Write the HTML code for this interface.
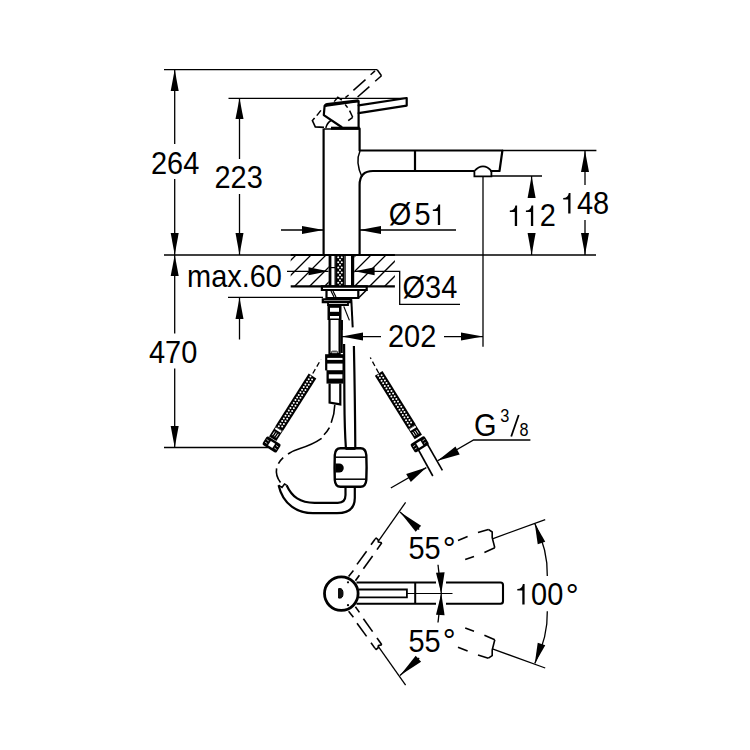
<!DOCTYPE html>
<html><head><meta charset="utf-8"><style>
html,body{margin:0;padding:0;background:#fff;width:750px;height:750px;overflow:hidden}
svg{display:block}
text{font-family:"Liberation Sans",sans-serif;fill:#000;stroke:none}
</style></head><body>
<svg width="750" height="750" viewBox="0 0 750 750">
<rect width="750" height="750" fill="#fff"/>
<g stroke="#000" fill="none">
<line x1="164" y1="69.6" x2="377.2" y2="69.6" stroke-width="1.3" />
<line x1="228.5" y1="98.3" x2="407" y2="98.3" stroke-width="1.3" />
<line x1="174.7" y1="70" x2="174.7" y2="144" stroke-width="1.3" />
<polygon points="174.7,69.6 170.70,91.00 178.70,91.00" fill="#000" stroke="none"/>
<line x1="174.7" y1="179" x2="174.7" y2="255" stroke-width="1.3" />
<polygon points="174.7,255 178.70,233.00 170.70,233.00" fill="#000" stroke="none"/>
<text transform="translate(151,174) scale(0.95,1)" font-size="30.5" text-anchor="start">264</text>
<line x1="239.5" y1="98.3" x2="239.5" y2="159" stroke-width="1.3" />
<polygon points="239.5,98.3 235.50,119.00 243.50,119.00" fill="#000" stroke="none"/>
<line x1="239.5" y1="194" x2="239.5" y2="255" stroke-width="1.3" />
<polygon points="239.5,255 243.50,233.00 235.50,233.00" fill="#000" stroke="none"/>
<text transform="translate(214.5,188) scale(0.95,1)" font-size="30.5" text-anchor="start">223</text>
<line x1="164" y1="255" x2="596" y2="255" stroke-width="1.3" />
<line x1="174.7" y1="255" x2="174.7" y2="333.5" stroke-width="1.3" />
<polygon points="174.7,255 170.70,276.00 178.70,276.00" fill="#000" stroke="none"/>
<line x1="228" y1="297.4" x2="323" y2="297.4" stroke-width="1.3" />
<line x1="239.5" y1="297.4" x2="239.5" y2="339.5" stroke-width="1.3" />
<polygon points="239.5,297.4 235.50,319.00 243.50,319.00" fill="#000" stroke="none"/>
<text transform="translate(187,286.5) scale(0.95,1)" font-size="30.5" text-anchor="start">max.60</text>
<line x1="174.7" y1="368.5" x2="174.7" y2="447.5" stroke-width="1.3" />
<polygon points="174.7,447.5 178.70,426.00 170.70,426.00" fill="#000" stroke="none"/>
<line x1="164" y1="447.5" x2="268" y2="447.5" stroke-width="1.3" />
<text transform="translate(149,363) scale(0.95,1)" font-size="30.5" text-anchor="start">470</text>
<line x1="281" y1="230" x2="323.6" y2="230" stroke-width="1.3" />
<polygon points="323.6,230 302.00,226.00 302.00,234.00" fill="#000" stroke="none"/>
<line x1="359.6" y1="230" x2="456" y2="230" stroke-width="1.3" />
<polygon points="359.6,230 381.00,234.00 381.00,226.00" fill="#000" stroke="none"/>
<text transform="translate(388.7,225) scale(0.95,1)" font-size="30.5" text-anchor="start">Ø</text>
<text transform="translate(414.44255,225) scale(0.95,1)" font-size="30.5" text-anchor="start">5</text>
<path d="M437.85 225 L440.15 225 L440.15 204.40 L438.45 204.40 C437.85 207.60 436.15 209.50 432.85 209.60 L432.85 211.10 L437.85 211.10 Z" fill="#000" stroke="none"/>
<line x1="287" y1="271.3" x2="328.5" y2="271.3" stroke-width="1.3" />
<polygon points="328.5,271.3 308.50,267.30 308.50,275.30" fill="#000" stroke="none"/>
<polyline points="354.5,271.3 399.7,271.3 399.7,304.4 460,304.4" fill="none" stroke-width="1.3" />
<polygon points="354.5,271.3 374.60,275.30 374.60,267.30" fill="#000" stroke="none"/>
<text transform="translate(402.5,298) scale(0.95,1)" font-size="30.5" text-anchor="start">Ø34</text>
<line x1="341.7" y1="336.6" x2="381" y2="336.6" stroke-width="1.3" />
<polygon points="341.7,336.6 363.00,340.60 363.00,332.60" fill="#000" stroke="none"/>
<line x1="444" y1="336.6" x2="483" y2="336.6" stroke-width="1.3" />
<polygon points="483,336.6 461.00,332.60 461.00,340.60" fill="#000" stroke="none"/>
<line x1="483" y1="176" x2="483" y2="346.8" stroke-width="1.3" />
<text transform="translate(388,347) scale(0.95,1)" font-size="30.5" text-anchor="start">202</text>
<line x1="502" y1="150.5" x2="596.4" y2="150.5" stroke-width="1.3" />
<line x1="491" y1="176" x2="542" y2="176" stroke-width="1.3" />
<line x1="585" y1="150.5" x2="585" y2="185" stroke-width="1.3" />
<polygon points="585,150.5 581.00,172.00 589.00,172.00" fill="#000" stroke="none"/>
<line x1="585" y1="220" x2="585" y2="255" stroke-width="1.3" />
<polygon points="585,255 589.00,233.00 581.00,233.00" fill="#000" stroke="none"/>
<path d="M568.20 213.5 L570.50 213.5 L570.50 192.90 L568.80 192.90 C568.20 196.10 566.50 198.00 563.20 198.10 L563.20 199.60 L568.20 199.60 Z" fill="#000" stroke="none"/>
<text transform="translate(577.0101,213.5) scale(0.95,1)" font-size="30.5" text-anchor="start">48</text>
<line x1="531.6" y1="176" x2="531.6" y2="198" stroke-width="1.3" />
<polygon points="531.6,176 527.60,198.00 535.60,198.00" fill="#000" stroke="none"/>
<line x1="531.6" y1="233" x2="531.6" y2="255" stroke-width="1.3" />
<polygon points="531.6,255 535.60,233.00 527.60,233.00" fill="#000" stroke="none"/>
<path d="M514.80 226 L517.10 226 L517.10 205.40 L515.40 205.40 C514.80 208.60 513.10 210.50 509.80 210.60 L509.80 212.10 L514.80 212.10 Z" fill="#000" stroke="none"/>
<path d="M530.91 226 L533.21 226 L533.21 205.40 L531.51 205.40 C530.91 208.60 529.21 210.50 525.91 210.60 L525.91 212.10 L530.91 212.10 Z" fill="#000" stroke="none"/>
<text transform="translate(539.7202,226) scale(0.95,1)" font-size="30.5" text-anchor="start">2</text>
<line x1="323.6" y1="128.5" x2="323.6" y2="254" stroke-width="2.2" />
<polyline points="359.6,128.5 359.6,150.5 502.4,150.5 499.5,171 491,171" fill="none" stroke-width="2.2" stroke-linejoin="round" stroke-linecap="round"/>
<line x1="474.4" y1="171" x2="373" y2="171" stroke-width="2.2" />
<path d="M373 171 Q359.6 171 359.6 185 L359.6 254" fill="none" stroke-width="2.2" />
<path d="M360 151 Q355 162 362 177" fill="none" stroke-width="1.5" />
<line x1="415" y1="151" x2="415" y2="171" stroke-width="2.2" />
<path d="M474.4 171 L474.4 176.3 L491.4 176.3 L491.4 171 M474.4 171 C477.5 167.5 479.5 166.3 483 166.3 C486.5 166.3 488.5 167.5 491.4 171" fill="none" stroke-width="1.8" />
<line x1="331" y1="128.2" x2="359.6" y2="128.2" stroke-width="3.0" />
<polyline points="341.5,127 323.8,115.2 324.6,105.8 358.6,101.2 358.6,128" fill="none" stroke-width="2.2" stroke-linejoin="round" stroke-linecap="round"/>
<path d="M325.5 106.8 Q325 104.6 327 104.3 L358.6 100.6" fill="none" stroke-width="2.8" />
<path d="M325.8 128 Q327 123 331 120.5" fill="none" stroke-width="1.5" />
<polyline points="358.6,105.4 406.7,98 406.7,105.6 358.6,113.2" fill="none" stroke-width="2.2" stroke-linejoin="round" stroke-linecap="round"/>
<line x1="375" y1="70.9" x2="370.6" y2="74.8" stroke-width="1.5" />
<line x1="365.5" y1="79.6" x2="353.4" y2="90.4" stroke-width="1.5" />
<line x1="348.6" y1="95" x2="345.4" y2="97.6" stroke-width="1.5" />
<line x1="381.5" y1="75.7" x2="375.2" y2="81.2" stroke-width="1.5" />
<line x1="369.4" y1="86.6" x2="357.6" y2="97" stroke-width="1.5" />
<line x1="320.9" y1="110.4" x2="316.8" y2="115.6" stroke-width="1.5" />
<line x1="345.2" y1="104.5" x2="347.6" y2="107.6" stroke-width="1.5" />
<line x1="349.6" y1="110.6" x2="352.7" y2="117.3" stroke-width="1.5" />
<polyline points="377.2,69.8 381.5,75.7" fill="none" stroke-width="1.5" />
<polyline points="334.2,101.6 337.8,97.2 341.8,100.2" fill="none" stroke-width="1.5" />
<polyline points="314.6,118 312.4,120.6 315.3,126.9 324,127.4" fill="none" stroke-width="1.6" />
<polyline points="352.7,117.3 348.2,120.6" fill="none" stroke-width="1.5" />
<line x1="323.9" y1="129" x2="359" y2="129" stroke-width="1.5" />
<line x1="290.7" y1="255" x2="394.9" y2="255" stroke-width="2.2" />
<line x1="290.7" y1="286.3" x2="394.9" y2="286.3" stroke-width="2.2" />
<clipPath id="hc"><rect x="290.7" y="255" width="38" height="31.3"/><rect x="354.4" y="255" width="40.5" height="31.3"/></clipPath>
<path d="M234.7 286.3 L266 255 M249.7 286.3 L281 255 M264.7 286.3 L296 255 M279.7 286.3 L311 255 M294.7 286.3 L326 255 M309.7 286.3 L341 255 M324.7 286.3 L356 255 M339.7 286.3 L371 255 M354.7 286.3 L386 255 M369.7 286.3 L401 255 M384.7 286.3 L416 255 M399.7 286.3 L431 255 M414.7 286.3 L446 255 M429.7 286.3 L461 255" fill="none" stroke-width="1.3" clip-path="url(#hc)"/>
<line x1="330" y1="255" x2="330" y2="286.3" stroke-width="2.8" />
<line x1="352.6" y1="255" x2="352.6" y2="286.3" stroke-width="3.2" />
<line x1="335.2" y1="255" x2="335.2" y2="286.3" stroke-width="1.4" />
<line x1="345" y1="255" x2="345" y2="286.3" stroke-width="1.4" />
<line x1="331" y1="267.6" x2="335.2" y2="267.6" stroke-width="1.2" />
<rect x="336" y="255" width="8" height="31.3" fill="#000" stroke="none"/>
<g fill="#fff" stroke="none"><circle cx="338.2" cy="257.20" r="1.0"/><circle cx="341.8" cy="257.20" r="1.0"/><circle cx="340.0" cy="259.75" r="1.0"/><circle cx="338.2" cy="262.30" r="1.0"/><circle cx="341.8" cy="262.30" r="1.0"/><circle cx="340.0" cy="264.85" r="1.0"/><circle cx="338.2" cy="267.40" r="1.0"/><circle cx="341.8" cy="267.40" r="1.0"/><circle cx="340.0" cy="269.95" r="1.0"/><circle cx="338.2" cy="272.50" r="1.0"/><circle cx="341.8" cy="272.50" r="1.0"/><circle cx="340.0" cy="275.05" r="1.0"/><circle cx="338.2" cy="277.60" r="1.0"/><circle cx="341.8" cy="277.60" r="1.0"/><circle cx="340.0" cy="280.15" r="1.0"/><circle cx="338.2" cy="282.70" r="1.0"/><circle cx="341.8" cy="282.70" r="1.0"/><circle cx="340.0" cy="285.25" r="1.0"/></g>
<polygon points="321.9,286.3 366.7,286.3 366.7,290 321.9,290" fill="none" stroke-width="2.2" />
<polygon points="326.5,290 358.3,290 358.3,298 326.5,298" fill="none" stroke-width="2.2" />
<path d="M366 290.5 L359 297.5" fill="none" stroke-width="1.6" />
<path d="M331 291 L334 297 M333 291 L336 297" fill="none" stroke-width="1.2" />
<polygon points="322.8,299.4 350.8,299.4 350.8,302.2 322.8,302.2" fill="none" stroke-width="2.2" />
<polygon points="328,302.2 348,302.2 348,305 328,305" fill="none" stroke-width="1.8" />
<rect x="327.5" y="305" width="14" height="15" fill="#000" stroke="none"/>
<rect x="330" y="307.8" width="9" height="4" fill="#fff" stroke="none"/>
<rect x="330" y="316" width="9" height="2.5" fill="#fff" stroke="none"/>
<polyline points="329.5,320 329.5,354 339.6,354 339.6,320" fill="none" stroke-width="2.2" />
<rect x="340.4" y="320" width="2.4" height="33" fill="#000" stroke="none"/>
<rect x="340.5" y="320" width="2.4" height="10" fill="#000" stroke="none"/>
<line x1="343.8" y1="306.4" x2="349.4" y2="320.4" stroke-width="1.2" />
<line x1="351.3" y1="299.4" x2="352.7" y2="327.4" stroke-width="2" />
<rect x="325.1" y="354.2" width="19.7" height="16.2" fill="#000" stroke="none"/>
<rect x="326.5" y="370" width="17" height="13.6" fill="#000" stroke="none"/>
<rect x="327.3" y="357.9" width="15.2" height="2" fill="#fff" stroke="none"/>
<rect x="327.3" y="363.6" width="15.2" height="6.6" fill="#fff" stroke="none"/>
<rect x="328.8" y="374.3" width="13.6" height="4.3" fill="#fff" stroke="none"/>
<rect x="331.5" y="351.2" width="6" height="2" rx="1" fill="#fff" stroke="#111" stroke-width="1"/>
<path d="M329.6 383.6 L329.6 402.6 L340.3 404.4 L340.3 383.6" fill="none" stroke-width="2.2" />
<path d="M344.1 344 L344.4 400 Q344.6 430 345.9 448" fill="none" stroke-width="2.2" />
<path d="M353.9 346 Q355 400 355.3 448" fill="none" stroke-width="2.2" />
<path d="M334.8 404.8 C334.6 411 333.5 417 331.2 422.8 M329.4 427.6 C327.8 430.5 326 432.8 324 434.8 M321.6 438.4 C315 443 308 446 300 448.5 C295 450 291 452 288 454 M283.2 457.6 C281.3 459.3 279.7 461.3 278.4 463.6 M276.6 468.4 C275.8 473 277 478 280.5 482.5" fill="none" stroke-width="1.6" />
<path d="M340.5 448.2 L360.5 448.2 Q365.8 448.2 366.3 455 Q366.9 467.5 366.3 480 Q365.8 486.8 360.5 486.8 L340.5 486.8 Q335.2 486.8 334.8 480 Q334.3 467.5 334.8 455 Q335.2 448.2 340.5 448.2 Z" fill="none" stroke-width="2.4" />
<line x1="335.5" y1="457.2" x2="365.8" y2="457.2" stroke-width="1.5" />
<line x1="335.5" y1="479.2" x2="365.8" y2="479.2" stroke-width="1.5" />
<path d="M335.3 463.4 L339.2 463.4 A4.55 4.55 0 0 1 339.2 472.5 L335.3 472.5 Z" fill="#000" stroke-width="0" />
<line x1="345.5" y1="448.5" x2="355.5" y2="448.5" stroke-width="2.8" />
<path d="M345.5 487 L345.5 495 Q345.5 502.8 337.8 502.8 L314.6 502.8 C300 502.8 292 497 286.6 485.2" fill="none" stroke-width="2.2" />
<path d="M354.8 487 L354.8 498 Q354.8 513.2 337 513.2 L313 513.2 C298 513.2 283 505 278.6 485.2" fill="none" stroke-width="2.2" />
<polyline points="278.6,485.2 282,487.5 284.5,484 286.6,485.2" fill="none" stroke-width="1.5" />
<line x1="312.5" y1="376" x2="279.14" y2="428.62" stroke-width="9"/>
<g fill="#fff" stroke="none"><circle cx="310.38" cy="376.55" r="1.0"/><circle cx="312.08" cy="379.46" r="1.0"/><circle cx="308.72" cy="379.17" r="1.0"/><circle cx="310.42" cy="382.08" r="1.0"/><circle cx="307.06" cy="381.78" r="1.0"/><circle cx="308.76" cy="384.70" r="1.0"/><circle cx="305.40" cy="384.40" r="1.0"/><circle cx="307.10" cy="387.32" r="1.0"/><circle cx="303.74" cy="387.02" r="1.0"/><circle cx="305.44" cy="389.94" r="1.0"/><circle cx="302.08" cy="389.64" r="1.0"/><circle cx="303.78" cy="392.55" r="1.0"/><circle cx="300.42" cy="392.26" r="1.0"/><circle cx="302.12" cy="395.17" r="1.0"/><circle cx="298.76" cy="394.88" r="1.0"/><circle cx="300.46" cy="397.79" r="1.0"/><circle cx="297.10" cy="397.49" r="1.0"/><circle cx="298.80" cy="400.41" r="1.0"/><circle cx="295.44" cy="400.11" r="1.0"/><circle cx="297.14" cy="403.03" r="1.0"/><circle cx="293.78" cy="402.73" r="1.0"/><circle cx="295.48" cy="405.65" r="1.0"/><circle cx="292.12" cy="405.35" r="1.0"/><circle cx="293.82" cy="408.26" r="1.0"/><circle cx="290.46" cy="407.97" r="1.0"/><circle cx="292.16" cy="410.88" r="1.0"/><circle cx="288.80" cy="410.59" r="1.0"/><circle cx="290.50" cy="413.50" r="1.0"/><circle cx="287.14" cy="413.20" r="1.0"/><circle cx="288.84" cy="416.12" r="1.0"/><circle cx="285.48" cy="415.82" r="1.0"/><circle cx="287.18" cy="418.74" r="1.0"/><circle cx="283.82" cy="418.44" r="1.0"/><circle cx="285.52" cy="421.36" r="1.0"/><circle cx="282.16" cy="421.06" r="1.0"/><circle cx="283.86" cy="423.97" r="1.0"/><circle cx="280.50" cy="423.68" r="1.0"/><circle cx="282.20" cy="426.59" r="1.0"/><circle cx="278.84" cy="426.29" r="1.0"/></g>
<line x1="279.14" y1="428.62" x2="272.72" y2="438.76" stroke-width="8.6"/>
<line x1="280.43" y1="431.45" x2="276.04" y2="428.67" stroke="#fff" stroke-width="2" stroke-linecap="round"/>
<line x1="278.43" y1="433.85" x2="276.07" y2="437.57" stroke="#fff" stroke-width="0.9"/>
<line x1="276.57" y1="432.68" x2="274.22" y2="436.39" stroke="#fff" stroke-width="0.9"/>
<line x1="274.71" y1="431.50" x2="272.36" y2="435.21" stroke="#fff" stroke-width="0.9"/>
<g transform="translate(271.6,444.5) rotate(122.37)"><rect x="-5" y="-8.3" width="10" height="16.6" rx="1.8" fill="#000" stroke="none"/><rect x="-2.6" y="-2.6" width="5.2" height="5.2" fill="#fff" stroke="none"/><path d="M-1.5 -6.8 v2.5 M1.5 -6.8 v2.5 M-1.5 4.3 v2.5 M1.5 4.3 v2.5" stroke="#fff" stroke-width="0.7"/></g>
<line x1="378.7" y1="373.3" x2="411.99" y2="426.90" stroke-width="9"/>
<g fill="#fff" stroke="none"><circle cx="378.27" cy="375.45" r="1.0"/><circle cx="381.64" cy="375.18" r="1.0"/><circle cx="379.91" cy="378.08" r="1.0"/><circle cx="383.27" cy="377.82" r="1.0"/><circle cx="381.54" cy="380.72" r="1.0"/><circle cx="384.91" cy="380.45" r="1.0"/><circle cx="383.18" cy="383.35" r="1.0"/><circle cx="386.54" cy="383.08" r="1.0"/><circle cx="384.81" cy="385.98" r="1.0"/><circle cx="388.18" cy="385.72" r="1.0"/><circle cx="386.45" cy="388.62" r="1.0"/><circle cx="389.81" cy="388.35" r="1.0"/><circle cx="388.08" cy="391.25" r="1.0"/><circle cx="391.45" cy="390.99" r="1.0"/><circle cx="389.72" cy="393.88" r="1.0"/><circle cx="393.08" cy="393.62" r="1.0"/><circle cx="391.35" cy="396.52" r="1.0"/><circle cx="394.72" cy="396.25" r="1.0"/><circle cx="392.99" cy="399.15" r="1.0"/><circle cx="396.36" cy="398.89" r="1.0"/><circle cx="394.63" cy="401.79" r="1.0"/><circle cx="397.99" cy="401.52" r="1.0"/><circle cx="396.26" cy="404.42" r="1.0"/><circle cx="399.63" cy="404.15" r="1.0"/><circle cx="397.90" cy="407.05" r="1.0"/><circle cx="401.26" cy="406.79" r="1.0"/><circle cx="399.53" cy="409.69" r="1.0"/><circle cx="402.90" cy="409.42" r="1.0"/><circle cx="401.17" cy="412.32" r="1.0"/><circle cx="404.53" cy="412.05" r="1.0"/><circle cx="402.80" cy="414.95" r="1.0"/><circle cx="406.17" cy="414.69" r="1.0"/><circle cx="404.44" cy="417.59" r="1.0"/><circle cx="407.80" cy="417.32" r="1.0"/><circle cx="406.07" cy="420.22" r="1.0"/><circle cx="409.44" cy="419.95" r="1.0"/><circle cx="407.71" cy="422.85" r="1.0"/><circle cx="411.08" cy="422.59" r="1.0"/><circle cx="409.34" cy="425.49" r="1.0"/></g>
<line x1="411.99" y1="426.90" x2="418.32" y2="437.10" stroke-width="8.6"/>
<line x1="415.10" y1="426.97" x2="410.68" y2="429.72" stroke="#fff" stroke-width="2" stroke-linecap="round"/>
<line x1="416.39" y1="429.82" x2="418.71" y2="433.56" stroke="#fff" stroke-width="0.9"/>
<line x1="414.52" y1="430.98" x2="416.84" y2="434.72" stroke="#fff" stroke-width="0.9"/>
<line x1="412.65" y1="432.14" x2="414.97" y2="435.88" stroke="#fff" stroke-width="0.9"/>
<g transform="translate(419.7,444.3) rotate(58.16)"><rect x="-5" y="-8.3" width="10" height="16.6" rx="1.8" fill="#000" stroke="none"/><rect x="-2.6" y="-2.6" width="5.2" height="5.2" fill="#fff" stroke="none"/><path d="M-1.5 -6.8 v2.5 M1.5 -6.8 v2.5 M-1.5 4.3 v2.5 M1.5 4.3 v2.5" stroke="#fff" stroke-width="0.7"/></g>
<line x1="312.8" y1="373.5" x2="320.9" y2="359.5" stroke-width="1.3" stroke-dasharray="5 3"/>
<line x1="378.7" y1="373" x2="370.3" y2="357.5" stroke-width="1.3" stroke-dasharray="5 3"/>
<line x1="418.5" y1="450" x2="432.8" y2="476" stroke-width="1.6" />
<line x1="425" y1="440" x2="442.4" y2="470.4" stroke-width="1.6" />
<polyline points="437.6,460.8 473.6,440 530.4,440" fill="none" stroke-width="1.3" />
<polygon points="437.6,460.8 459.71,454.59 455.49,446.41" fill="#000" stroke="none"/>
<line x1="390.8" y1="488" x2="426.3" y2="467.6" stroke-width="1.3" />
<polygon points="426.3,467.6 406.18,474.03 410.82,481.97" fill="#000" stroke="none"/>
<text transform="translate(474,436.3) scale(0.95,1)" font-size="30.5" text-anchor="start">G</text>
<text transform="translate(500.2,422) scale(0.92,1)" font-size="17.8" text-anchor="start">3</text>
<line x1="511.2" y1="436.5" x2="518.7" y2="415" stroke-width="1.8" />
<text transform="translate(519.4,436.2) scale(0.86,1)" font-size="18.8" text-anchor="start">8</text>
<circle cx="341.3" cy="593.6" r="16.8" fill="none" stroke-width="2.8"/>
<path d="M338.6 588.6 L340 588.6 Q343 588.6 343 593.4 Q343 598.1 340 598.1 L338.6 598.1 Z" fill="#111" stroke-width="1" />
<circle cx="348" cy="582.3" r="1.1" fill="#000" stroke="none"/><circle cx="348" cy="605.2" r="1.1" fill="#000" stroke="none"/>
<path d="M446 582.5 L500.5 582.5 Q503 582.5 503 585 L503 601.2 Q503 603.7 500.5 603.7 L446 603.7 M356.5 582.5 L436 582.5 M356.5 603.7 L436 603.7" fill="none" stroke-width="2.1" />
<polyline points="358.8,589.5 406.9,589.5 406.9,597.3 358.8,597.3" fill="none" stroke-width="1.8" />
<line x1="415.2" y1="582.5" x2="415.2" y2="603.7" stroke-width="2" />
<line x1="407" y1="593.5" x2="452.5" y2="593.5" stroke-width="1" />
<line x1="348.6" y1="576.4" x2="353.4" y2="570.4" stroke-width="1.6" />
<line x1="357" y1="564.4" x2="366.6" y2="551.2" stroke-width="1.6" />
<line x1="371" y1="544.8" x2="375" y2="539.2" stroke-width="1.6" />
<line x1="355.4" y1="580.8" x2="359.4" y2="575.2" stroke-width="1.6" />
<line x1="363.4" y1="568.8" x2="372.6" y2="556" stroke-width="1.6" />
<line x1="377" y1="549.6" x2="381.8" y2="542.8" stroke-width="1.6" />
<polyline points="375,539.2 376.2,538.2 378,539.6 378.4,542 381.8,542.8" fill="none" stroke-width="1.6" stroke-linejoin="round"/>
<line x1="458" y1="540.4" x2="467.6" y2="536.6" stroke-width="1.6" />
<line x1="478" y1="532.6" x2="488.4" y2="529.4" stroke-width="1.6" />
<line x1="465.2" y1="559.6" x2="474" y2="556.4" stroke-width="1.6" />
<line x1="484.4" y1="552.4" x2="494.8" y2="547.8" stroke-width="1.6" />
<polyline points="488.4,529.4 492.2,532 492.2,537.6 494.8,547.8" fill="none" stroke-width="1.6" stroke-linejoin="round"/>
<line x1="378.6" y1="540.8" x2="405.6" y2="502.4" stroke-width="1.3" />
<line x1="400" y1="512" x2="419.2" y2="529.6" stroke-width="1.3" />
<line x1="492.4" y1="538.8" x2="545.2" y2="519.6" stroke-width="1.3" />
<line x1="348.6" y1="611.2" x2="353.4" y2="617.2" stroke-width="1.6" />
<line x1="357" y1="623.2" x2="366.6" y2="636.4" stroke-width="1.6" />
<line x1="371" y1="642.8" x2="375" y2="648.4" stroke-width="1.6" />
<line x1="355.4" y1="606.8" x2="359.4" y2="612.4" stroke-width="1.6" />
<line x1="363.4" y1="618.8" x2="372.6" y2="631.6" stroke-width="1.6" />
<line x1="377" y1="638.0" x2="381.8" y2="644.8" stroke-width="1.6" />
<polyline points="375,648.4 376.2,649.4 378,648.0 378.4,645.6 381.8,644.8" fill="none" stroke-width="1.6" stroke-linejoin="round"/>
<line x1="458" y1="647.2" x2="467.6" y2="651.0" stroke-width="1.6" />
<line x1="478" y1="655.0" x2="488.4" y2="658.2" stroke-width="1.6" />
<line x1="465.2" y1="628.0" x2="474" y2="631.2" stroke-width="1.6" />
<line x1="484.4" y1="635.2" x2="494.8" y2="639.8" stroke-width="1.6" />
<polyline points="488.4,658.2 492.2,655.6 492.2,650.0 494.8,639.8" fill="none" stroke-width="1.6" stroke-linejoin="round"/>
<line x1="378.6" y1="646.8" x2="405.6" y2="685.2" stroke-width="1.3" />
<line x1="400" y1="675.6" x2="419.2" y2="658.0" stroke-width="1.3" />
<line x1="492.4" y1="648.8" x2="545.2" y2="668.0" stroke-width="1.3" />
<polygon points="400,512 415.70,531.75 421.10,525.85" fill="#000" stroke="none"/>
<polygon points="400,675.5999999999999 421.10,661.75 415.70,655.85" fill="#000" stroke="none"/>
<text transform="translate(408.5,558.5) scale(0.95,1)" font-size="30.5" text-anchor="start">55</text>
<text transform="translate(442.8,559.6) scale(0.95,1)" font-size="34" text-anchor="start">°</text>
<text transform="translate(408.5,651.5) scale(0.95,1)" font-size="30.5" text-anchor="start">55</text>
<text transform="translate(442.8,652.4) scale(0.95,1)" font-size="34" text-anchor="start">°</text>
<line x1="438" y1="564.8" x2="441.3" y2="593.5" stroke-width="1.3" />
<polygon points="441.3,593.5 444.60,572.30 436.00,572.70" fill="#000" stroke="none"/>
<line x1="438" y1="622.5" x2="441.3" y2="593.5" stroke-width="1.3" />
<polygon points="441.3,593.5 436.00,614.80 444.60,615.20" fill="#000" stroke="none"/>
<path d="M534.8 523.6 Q548 550 547.3 576" fill="none" stroke-width="1.3" />
<polygon points="534.8,523.6 537.72,544.31 545.28,541.69" fill="#000" stroke="none"/>
<path d="M547.3 611.3 Q548 637 534.8 663.4" fill="none" stroke-width="1.3" />
<polygon points="534.8,663.4 545.28,645.31 537.72,642.69" fill="#000" stroke="none"/>
<path d="M522.30 604.5 L524.60 604.5 L524.60 583.90 L522.90 583.90 C522.30 587.10 520.60 589.00 517.30 589.10 L517.30 590.60 L522.30 590.60 Z" fill="#000" stroke="none"/>
<text transform="translate(531.1101,604.5) scale(0.95,1)" font-size="30.5" text-anchor="start">00</text>
<text transform="translate(565.8,606.6) scale(0.95,1)" font-size="34" text-anchor="start">°</text>
</g>
</svg>
</body></html>
